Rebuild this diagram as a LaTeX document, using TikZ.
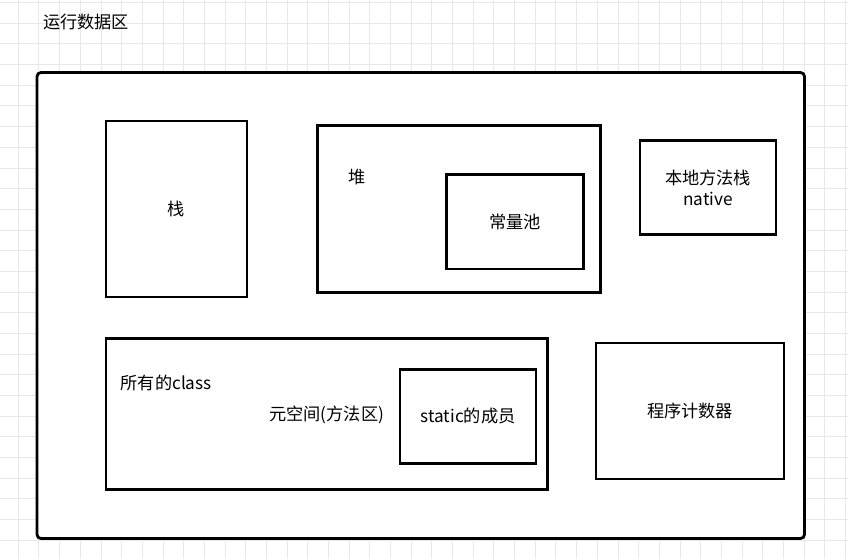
\documentclass[tikz,border=0pt]{standalone}
\usepackage{fontspec}
\setmainfont{Noto Sans CJK SC}
\definecolor{gridc}{RGB}{232,232,232}
\begin{document}
\begin{tikzpicture}[x=1pt,y=-1pt,
  box/.style={draw=black,line width=2.8pt,fill=white,inner sep=0pt,font=\fontsize{17.2}{20}\selectfont},
  lbl/.style={inner sep=0pt,font=\fontsize{17.2}{20}\selectfont}]
\useasboundingbox (0,0) rectangle (848,559);
\fill[white] (0,0) rectangle (848,559);
% grid
\foreach \k in {0,...,40} {
  \draw[gridc,line width=1pt] ({18.3+20.68*\k},0) -- ({18.3+20.68*\k},559);
}
\draw[gridc,line width=1pt] (-2.4,0) -- (-2.4,559);
\foreach \k in {0,...,27} {
  \draw[gridc,line width=1pt] (0,{2.6+20.68*\k}) -- (848,{2.6+20.68*\k});
}
% title
\node[lbl] (title) at (86,22) {运行数据区};
% outer box
\draw[line width=2.8pt,fill=white,rounded corners=4pt] (37,72.5) rectangle (804.5,538.5);
\coordinate (outer) at (420,305);
% stack
\node[box,minimum width=141pt,minimum height=176pt] (stack) at (176.5,209) {栈};
% heap
\node[box,minimum width=283.5pt,minimum height=166.5pt] (heap) at (459,209) {};
\node[lbl] (heaplbl) at (356.7,176.7) {堆};
\node[box,minimum width=136.5pt,minimum height=94.5pt] (pool) at (515,221.7) {常量池};
% native
\node[box,minimum width=136pt,minimum height=94.5pt,align=center,font=\fontsize{17.2}{21}\selectfont] (native) at (708,187.6) {本地方法栈\\native};
% metaspace
\node[box,minimum width=441.5pt,minimum height=151pt] (meta) at (326.8,413.8) {};
\node[lbl,anchor=west] (classes) at (120.5,383.3) {所有的class};
\node[lbl] (metalbl) at (326.7,415) {元空间(方法区)};
\node[box,minimum width=136pt,minimum height=94pt] (static) at (468,416.3) {static的成员};
% pc
\node[box,minimum width=188pt,minimum height=136pt] (pc) at (690,411) {程序计数器};
\end{tikzpicture}
\end{document}
